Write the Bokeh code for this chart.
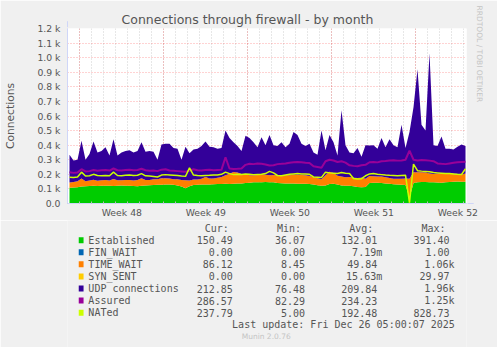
import math
from bokeh.plotting import figure
from bokeh.models import ColumnDataSource, FixedTicker, Range1d, Title, Arrow, NormalHead
from bokeh.layouts import column
from bokeh.embed import file_html
from bokeh.resources import INLINE
from bokeh.core.properties import value

# ---------------- data (2-hourly averages read at ~8 h steps) ----------------
established = [
    108, 110, 112, 116, 118, 120, 121, 120, 122,
    121, 122, 120, 121, 123, 122, 121, 120, 119, 121, 124, 126, 127, 128, 129, 130,
    131, 129, 124, 116, 104, 118,
    127, 129, 130, 131, 130, 132, 133, 134, 135, 134, 136, 137, 138, 140, 142, 145, 146, 145, 147,
    146, 145, 140, 139, 138, 138, 137, 136, 135, 135, 134, 130, 125, 122, 124, 133, 135, 130, 124, 122, 121, 118, 113, 112, 114,
    140, 142, 143, 140, 138, 135, 132, 130, 128, 127,
    40,
    140, 145, 147, 148, 146, 145, 144, 143, 145, 147, 150, 151, 150, 150,
]
fin_wait = [
    0, 0, 0, 0, 0, 0, 0, 0, 0, 0, 0, 0, 0, 0, 0, 0, 0, 0, 0, 0, 0, 0, 0, 0, 0,
    0, 0, 0, 0, 0, 0, 0, 0, 0, 0, 0, 0, 0, 0, 0, 0, 0, 0, 0, 0, 0, 0, 0, 0, 0,
    0, 0, 0, 0, 0, 0, 0, 0, 0, 0, 0, 0, 0, 0, 0, 0, 0, 0, 0, 0, 0, 0, 0, 0, 0,
    0, 0, 0, 0, 0, 0, 0, 0, 0, 0, 0, 0, 0, 0, 0, 0, 0, 0, 0, 0, 0, 0, 0, 0, 0,
]
time_wait = [
    36, 38, 40, 55, 35, 38, 42, 36, 38,
    40, 36, 48, 38, 37, 39, 40, 38, 42, 52, 38, 36, 40, 38, 45, 44,
    40, 38, 42, 45, 55, 40, 38, 36, 40, 50, 42, 40, 44, 48, 58, 70, 80, 75, 65, 60, 52, 48, 50, 55, 50,
    48, 50, 52, 55, 58, 56, 60, 62, 60, 58, 55, 50, 48, 45, 70, 85, 75, 60, 62, 58, 60, 58, 62, 65, 55,
    48, 45, 42, 45, 42, 40, 38, 40, 42, 44,
    130,
    75, 70, 68, 65, 60, 58, 62, 65, 60, 58, 55, 52, 48, 55,
]
syn_sent = [
    0, 0, 0, 0, 0, 0, 0, 0, 0, 0, 0, 0, 0, 0, 0, 0, 0, 0, 0, 0, 0, 0, 0, 0, 0,
    0, 0, 0, 0, 0, 0, 0, 0, 0, 0, 0, 0, 0, 0, 0, 0, 0, 0, 0, 0, 0, 0, 0, 0, 0,
    0, 0, 0, 0, 0, 0, 0, 0, 0, 0, 0, 0, 0, 0, 0, 0, 0, 0, 0, 0, 0, 0, 0, 0, 0,
    0, 0, 0, 0, 0, 0, 0, 0, 0, 0, 0, 0, 0, 0, 0, 0, 0, 0, 0, 0, 0, 0, 0, 0, 0,
]
udp = [
    191, 147, 148, 259, 147, 182, 262, 194, 200, 224, 172, 272, 171, 190, 199, 204, 192, 199, 247, 193,
    198, 188, 134, 231, 236, 239, 213, 209, 139, 231, 187, 205, 210, 225, 244, 218, 213, 198, 198, 307,
    246, 204, 183, 157, 265, 256, 227, 189, 255, 203, 276, 205, 203, 226, 189, 216, 293, 272, 215, 202,
    221, 170, 162, 333, 171, 252, 210, 140, 454, 220, 169, 169, 205, 143, 231, 210, 213, 190, 265, 205,
    265, 230, 215, 370, 209, 320, 445, 705, 325, 287, 824, 197, 189, 252, 170, 170, 165, 187, 207, 190,
]
assured = [
    215, 210, 212, 235, 220, 222, 230, 225, 228, 230, 226, 240, 228, 226, 230, 232, 228, 230, 238, 228,
    225, 226, 222, 232, 235, 226, 224, 222, 220, 218, 225, 235, 228, 226, 230, 232, 228, 230, 232, 317,
    240, 237, 238, 240, 265, 272, 270, 275, 272, 268, 260, 262, 270, 272, 275, 280, 283, 285, 283, 280,
    278, 255, 250, 245, 290, 300, 295, 285, 290, 280, 262, 258, 255, 262, 265, 283, 285, 282, 290, 292,
    295, 296, 294, 295, 300, 363, 300, 295, 298, 296, 294, 290, 275, 272, 270, 275, 280, 283, 285, 287,
]
nated = [
    180, 178, 182, 215, 188, 190, 200, 192, 190, 192, 190, 215, 192, 190, 193, 195, 192, 194, 205, 190,
    188, 185, 182, 195, 198, 196, 194, 192, 188, 186, 244, 195, 192, 190, 192, 193, 195, 196, 200, 215,
    205, 198, 200, 199, 202, 200, 198, 199, 200, 205, 220, 210, 192, 190, 195, 200, 203, 205, 203, 202,
    200, 182, 180, 178, 215, 210, 208, 206, 212, 208, 205, 172, 168, 170, 190, 203, 205, 200, 198, 195,
    193, 192, 190, 192, 194, 5, 270, 225, 222, 220, 218, 212, 210, 208, 206, 205, 202, 200, 199, 238,
]

# time axis: days relative to Monday of week 48, one sample every 8 hours
t_start = -1.03
days = [t_start + (i + 0.5) / 3 for i in range(len(established))]
t_end = t_start + 399 / 12

week_starts = [0, 7, 14, 21, 28]
week_labels = ["Week 48", "Week 49", "Week 50", "Week 51", "Week 52"]
y_ticks = [0, 100, 200, 300, 400, 500, 600, 700, 800, 900, 1000, 1100, 1200]
y_tick_labels = ["0.0", "0.1 k", "0.2 k", "0.3 k", "0.4 k", "0.5 k", "0.6 k",
                 "0.7 k", "0.8 k", "0.9 k", "1.0 k", "1.1 k", "1.2 k"]

series_names = ["Established", "FIN_WAIT", "TIME_WAIT", "SYN_SENT",
                "UDP connections", "Assured", "NATed"]
series_colors = ["#00CC00", "#0066B3", "#FF8000", "#FFCC00", "#330099", "#990099", "#CCFF00"]
cur_vals = ["150.49", "0.00", "86.12", "0.00", "212.85", "286.57", "237.79"]
min_vals = ["36.07", "0.00", "8.45", "0.00", "76.48", "82.29", "5.00"]
avg_vals = ["132.01", "7.19m", "49.84", "15.63m", "209.84", "234.23", "192.48"]
max_vals = ["391.40", "1.00", "1.06k", "29.97", "1.96k", "1.25k", "828.73"]

FONT = "#555555"

# ---------------- main chart ----------------
src = ColumnDataSource(dict(x=days, est=established, fin=fin_wait, tw=time_wait,
                            syn=syn_sent, udp=udp, assured=assured, nated=nated))

p = figure(width=497, height=220, x_range=Range1d(t_start, t_end), y_range=Range1d(0, 1200),
           toolbar_location=None, output_backend="svg",
           min_border_left=67, min_border_right=31, min_border_top=28, min_border_bottom=17,
           background_fill_color="white", border_fill_color="#F0F0F0", outline_line_color=None)

p.varea_stack(stackers=["est", "fin", "tw", "syn", "udp"], x="x",
              color=series_colors[:5], source=src)
p.line("x", "assured", source=src, color=series_colors[5], line_width=2)
p.line("x", "nated", source=src, color=series_colors[6], line_width=1.5)

# title
p.title.text = "Connections through firewall - by month"
p.title.align = "left"
p.title.offset = 54
p.title.standoff = 3
p.title.text_font = "DejaVu Sans"
p.title.text_font_size = "12.5px"
p.title.text_font_style = "normal"
p.title.text_color = FONT

# x axis
mid_week = [w + 3.5 for w in week_starts]
p.xaxis.ticker = FixedTicker(ticks=mid_week, minor_ticks=list(range(-1, 33)))
p.xaxis.major_label_overrides = {m: lab for m, lab in zip(mid_week, week_labels)}
p.xaxis.major_tick_line_color = None
p.xaxis.major_tick_out = 0
p.xaxis.major_tick_in = 0
p.xaxis.minor_tick_in = 2
p.xaxis.minor_tick_out = 0
p.xaxis.minor_tick_line_color = "#BBBBBB"
p.xaxis.major_label_standoff = 3
p.xaxis.axis_line_color = "#CFD6F8"
p.xaxis.major_label_text_font = "DejaVu Sans"
p.xaxis.major_label_text_font_size = "9.3px"
p.xaxis.major_label_text_color = FONT

# y axis
p.yaxis.ticker = FixedTicker(ticks=y_ticks)
p.yaxis.major_label_overrides = {v: lab for v, lab in zip(y_ticks, y_tick_labels)}
p.yaxis.major_tick_out = 0
p.yaxis.major_tick_in = 0
p.yaxis.minor_tick_line_color = None
p.yaxis.major_label_standoff = 7
p.yaxis.axis_line_color = "#CFD6F8"
p.yaxis.major_label_text_font = "DejaVu Sans"
p.yaxis.major_label_text_font_size = "9.3px"
p.yaxis.major_label_text_color = FONT
p.yaxis.axis_label = "Connections"
p.yaxis.axis_label_text_font = "DejaVu Sans"
p.yaxis.axis_label_text_font_size = "10.7px"
p.yaxis.axis_label_text_font_style = "normal"
p.yaxis.axis_label_text_color = FONT
p.yaxis.axis_label_standoff = 17

# grids
p.ygrid.ticker = FixedTicker(ticks=y_ticks)
p.ygrid.grid_line_color = "#FF0000"
p.ygrid.grid_line_alpha = 0.35
p.ygrid.grid_line_dash = "1 2"
p.xgrid.ticker = FixedTicker(ticks=week_starts, minor_ticks=list(range(-1, 33)))
p.xgrid.grid_line_color = "#FF0000"
p.xgrid.grid_line_alpha = 0.35
p.xgrid.grid_line_dash = "1 2"
p.xgrid.minor_grid_line_color = "#BBBBBB"
p.xgrid.minor_grid_line_alpha = 0.7
p.xgrid.minor_grid_line_dash = "1 2"

# axis arrows
p.add_layout(Arrow(end=NormalHead(size=6, fill_color="#CFD6F8", line_color="#CFD6F8"),
                   x_start=t_start, y_start=1150, x_end=t_start, y_end=1250,
                   line_color="#CFD6F8", line_width=1))
p.add_layout(Arrow(end=NormalHead(size=6, fill_color="#CFD6F8", line_color="#CFD6F8"),
                   x_start=t_end - 1, y_start=0, x_end=t_end + 0.6, y_end=0,
                   line_color="#CFD6F8", line_width=1))

# watermark on the right side
p.add_layout(Title(text="RRDTOOL / TOBI OETIKER", align="left", offset=-23, standoff=16,
                   text_font="DejaVu Sans", text_font_size="7.5px", text_font_style="normal",
                   text_color="#C4C4C4"), "right")

# ---------------- legend / statistics block ----------------
p2 = figure(width=497, height=127, x_range=Range1d(0, 497), y_range=Range1d(347, 220),
            toolbar_location=None, output_backend="svg", min_border=0,
            x_axis_type=None, y_axis_type=None,
            background_fill_color="#F0F0F0", border_fill_color="#F0F0F0", outline_line_color=None)
p2.grid.visible = False

row_y = [239.7 + 12.08 * k for k in range(len(series_names))]
mono = value("DejaVu Sans Mono")
CW = 6.02

p2.rect(x=[17] * len(row_y), y=row_y, width=6, height=6, color=series_colors, line_color=None)
p2.text(x=[26] * len(row_y), y=row_y, text=series_names, text_font=mono, text_font_size="10px",
        text_color=FONT, text_baseline="middle", text_align="left")

col_right = [206, 296, 386, 476]
headers = ["Cur:", "Min:", "Avg:", "Max:"]
for cr, hdr, vals in zip(col_right, headers, [cur_vals, min_vals, avg_vals, max_vals]):
    xs = [cr + (CW if v[-1].isalpha() else 0) for v in vals]
    p2.text(x=xs, y=row_y, text=vals, text_font=mono, text_font_size="10px",
            text_color=FONT, text_baseline="middle", text_align="right")
    p2.text(x=[cr - 5], y=[227.5], text=[hdr], text_font=mono, text_font_size="10px",
            text_color=FONT, text_baseline="middle", text_align="right")

p2.text(x=[482.5], y=[323.7], text=["Last update: Fri Dec 26 05:00:07 2025"], text_font=mono,
        text_font_size="10px", text_color=FONT, text_baseline="middle", text_align="right")
p2.text(x=[247.5], y=[336], text=["Munin 2.0.76"], text_font=value("DejaVu Sans"),
        text_font_size="7.5px", text_color="#C4C4C4", text_baseline="middle", text_align="center")

layout = column(p, p2, spacing=0)
open("out.html", "w").write(file_html(layout, INLINE))
